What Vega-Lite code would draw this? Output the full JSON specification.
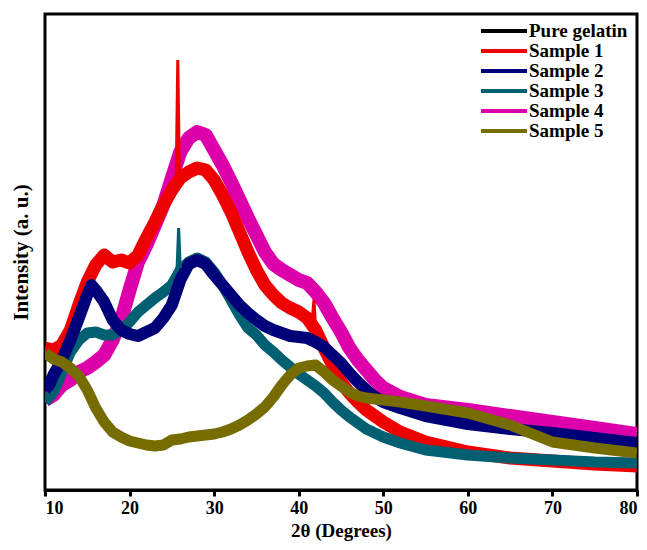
{
  "$schema": "https://vega.github.io/schema/vega-lite/v6.json",
  "width": 592,
  "height": 476,
  "autosize": {"type": "none"},
  "padding": {"left": 45, "top": 14, "right": 10, "bottom": 60},
  "background": "white",
  "config": {
    "view": {"stroke": "black", "strokeWidth": 3},
    "font": "Liberation Serif"
  },
  "datasets": {
    "curves": [
      {"s":"Sample 4","x":10,"y":90},{"s":"Sample 4","x":11,"y":95},{"s":"Sample 4","x":12,"y":105},{"s":"Sample 4","x":13,"y":110},{"s":"Sample 4","x":14,"y":118},{"s":"Sample 4","x":15,"y":122},{"s":"Sample 4","x":16,"y":128},{"s":"Sample 4","x":17,"y":135},{"s":"Sample 4","x":18,"y":150},{"s":"Sample 4","x":19,"y":170},{"s":"Sample 4","x":20,"y":200},{"s":"Sample 4","x":21,"y":228},{"s":"Sample 4","x":22,"y":245},{"s":"Sample 4","x":23,"y":265},{"s":"Sample 4","x":24,"y":285},{"s":"Sample 4","x":25,"y":312},{"s":"Sample 4","x":26,"y":338},{"s":"Sample 4","x":27,"y":352},{"s":"Sample 4","x":28,"y":358},{"s":"Sample 4","x":29,"y":355},{"s":"Sample 4","x":30,"y":340},{"s":"Sample 4","x":31,"y":325},{"s":"Sample 4","x":32,"y":308},{"s":"Sample 4","x":33,"y":290},{"s":"Sample 4","x":34,"y":272},{"s":"Sample 4","x":35,"y":255},{"s":"Sample 4","x":36,"y":238},{"s":"Sample 4","x":37,"y":226},{"s":"Sample 4","x":38,"y":220},{"s":"Sample 4","x":39,"y":215},{"s":"Sample 4","x":40,"y":210},{"s":"Sample 4","x":41,"y":207},{"s":"Sample 4","x":42,"y":198},{"s":"Sample 4","x":43,"y":187},{"s":"Sample 4","x":44,"y":172},{"s":"Sample 4","x":45,"y":158},{"s":"Sample 4","x":46,"y":142},{"s":"Sample 4","x":47,"y":130},{"s":"Sample 4","x":48,"y":120},{"s":"Sample 4","x":49,"y":110},{"s":"Sample 4","x":50,"y":102},{"s":"Sample 4","x":52,"y":93},{"s":"Sample 4","x":55,"y":85},{"s":"Sample 4","x":60,"y":80},{"s":"Sample 4","x":65,"y":74},{"s":"Sample 4","x":70,"y":68},{"s":"Sample 4","x":75,"y":62},{"s":"Sample 4","x":80,"y":56},

      {"s":"Sample 1","x":10,"y":142},{"s":"Sample 1","x":11,"y":140},{"s":"Sample 1","x":12,"y":145},{"s":"Sample 1","x":13,"y":160},{"s":"Sample 1","x":14,"y":185},{"s":"Sample 1","x":15,"y":208},{"s":"Sample 1","x":16,"y":225},{"s":"Sample 1","x":17,"y":235},{"s":"Sample 1","x":18,"y":228},{"s":"Sample 1","x":19,"y":230},{"s":"Sample 1","x":20,"y":227},{"s":"Sample 1","x":21,"y":235},{"s":"Sample 1","x":22,"y":252},{"s":"Sample 1","x":23,"y":268},{"s":"Sample 1","x":24,"y":285},{"s":"Sample 1","x":25,"y":300},{"s":"Sample 1","x":26,"y":312},{"s":"Sample 1","x":27,"y":318},{"s":"Sample 1","x":28,"y":322},{"s":"Sample 1","x":29,"y":320},{"s":"Sample 1","x":30,"y":310},{"s":"Sample 1","x":31,"y":295},{"s":"Sample 1","x":32,"y":278},{"s":"Sample 1","x":33,"y":258},{"s":"Sample 1","x":34,"y":238},{"s":"Sample 1","x":35,"y":220},{"s":"Sample 1","x":36,"y":205},{"s":"Sample 1","x":37,"y":195},{"s":"Sample 1","x":38,"y":187},{"s":"Sample 1","x":39,"y":182},{"s":"Sample 1","x":40,"y":178},{"s":"Sample 1","x":41,"y":172},{"s":"Sample 1","x":42,"y":160},{"s":"Sample 1","x":43,"y":142},{"s":"Sample 1","x":44,"y":125},{"s":"Sample 1","x":45,"y":108},{"s":"Sample 1","x":46,"y":97},{"s":"Sample 1","x":47,"y":88},{"s":"Sample 1","x":48,"y":80},{"s":"Sample 1","x":50,"y":68},{"s":"Sample 1","x":52,"y":58},{"s":"Sample 1","x":55,"y":48},{"s":"Sample 1","x":60,"y":38},{"s":"Sample 1","x":65,"y":32},{"s":"Sample 1","x":70,"y":29},{"s":"Sample 1","x":75,"y":26},{"s":"Sample 1","x":80,"y":24},

      {"s":"Sample 3","x":10,"y":88},{"s":"Sample 3","x":11,"y":98},{"s":"Sample 3","x":12,"y":118},{"s":"Sample 3","x":13,"y":138},{"s":"Sample 3","x":14,"y":150},{"s":"Sample 3","x":15,"y":157},{"s":"Sample 3","x":16,"y":158},{"s":"Sample 3","x":17,"y":155},{"s":"Sample 3","x":18,"y":155},{"s":"Sample 3","x":19,"y":160},{"s":"Sample 3","x":20,"y":168},{"s":"Sample 3","x":21,"y":178},{"s":"Sample 3","x":22,"y":185},{"s":"Sample 3","x":23,"y":192},{"s":"Sample 3","x":24,"y":198},{"s":"Sample 3","x":25,"y":205},{"s":"Sample 3","x":26,"y":220},{"s":"Sample 3","x":27,"y":228},{"s":"Sample 3","x":28,"y":232},{"s":"Sample 3","x":29,"y":228},{"s":"Sample 3","x":30,"y":218},{"s":"Sample 3","x":31,"y":205},{"s":"Sample 3","x":32,"y":190},{"s":"Sample 3","x":33,"y":175},{"s":"Sample 3","x":34,"y":162},{"s":"Sample 3","x":35,"y":155},{"s":"Sample 3","x":36,"y":145},{"s":"Sample 3","x":37,"y":138},{"s":"Sample 3","x":38,"y":130},{"s":"Sample 3","x":39,"y":123},{"s":"Sample 3","x":40,"y":116},{"s":"Sample 3","x":41,"y":110},{"s":"Sample 3","x":42,"y":104},{"s":"Sample 3","x":43,"y":97},{"s":"Sample 3","x":44,"y":88},{"s":"Sample 3","x":45,"y":80},{"s":"Sample 3","x":46,"y":73},{"s":"Sample 3","x":47,"y":67},{"s":"Sample 3","x":48,"y":61},{"s":"Sample 3","x":50,"y":53},{"s":"Sample 3","x":52,"y":47},{"s":"Sample 3","x":55,"y":40},{"s":"Sample 3","x":60,"y":35},{"s":"Sample 3","x":65,"y":32},{"s":"Sample 3","x":70,"y":30},{"s":"Sample 3","x":75,"y":28},{"s":"Sample 3","x":80,"y":27},

      {"s":"Sample 2","x":10,"y":100},{"s":"Sample 2","x":10.5,"y":105},{"s":"Sample 2","x":11,"y":115},{"s":"Sample 2","x":12,"y":130},{"s":"Sample 2","x":13,"y":150},{"s":"Sample 2","x":14,"y":172},{"s":"Sample 2","x":15,"y":195},{"s":"Sample 2","x":15.5,"y":205},{"s":"Sample 2","x":16,"y":200},{"s":"Sample 2","x":17,"y":188},{"s":"Sample 2","x":18,"y":170},{"s":"Sample 2","x":19,"y":160},{"s":"Sample 2","x":20,"y":156},{"s":"Sample 2","x":21,"y":154},{"s":"Sample 2","x":22,"y":158},{"s":"Sample 2","x":23,"y":162},{"s":"Sample 2","x":24,"y":172},{"s":"Sample 2","x":25,"y":185},{"s":"Sample 2","x":26,"y":210},{"s":"Sample 2","x":27,"y":226},{"s":"Sample 2","x":28,"y":230},{"s":"Sample 2","x":29,"y":226},{"s":"Sample 2","x":30,"y":215},{"s":"Sample 2","x":31,"y":205},{"s":"Sample 2","x":32,"y":195},{"s":"Sample 2","x":33,"y":185},{"s":"Sample 2","x":34,"y":177},{"s":"Sample 2","x":35,"y":170},{"s":"Sample 2","x":36,"y":164},{"s":"Sample 2","x":37,"y":160},{"s":"Sample 2","x":38,"y":157},{"s":"Sample 2","x":39,"y":154},{"s":"Sample 2","x":40,"y":153},{"s":"Sample 2","x":41,"y":152},{"s":"Sample 2","x":42,"y":148},{"s":"Sample 2","x":43,"y":143},{"s":"Sample 2","x":44,"y":135},{"s":"Sample 2","x":45,"y":127},{"s":"Sample 2","x":46,"y":117},{"s":"Sample 2","x":47,"y":108},{"s":"Sample 2","x":48,"y":100},{"s":"Sample 2","x":49,"y":93},{"s":"Sample 2","x":50,"y":88},{"s":"Sample 2","x":52,"y":82},{"s":"Sample 2","x":55,"y":74},{"s":"Sample 2","x":60,"y":66},{"s":"Sample 2","x":65,"y":61},{"s":"Sample 2","x":70,"y":57},{"s":"Sample 2","x":75,"y":52},{"s":"Sample 2","x":80,"y":47},

      {"s":"Sample 5","x":10,"y":137},{"s":"Sample 5","x":11,"y":131},{"s":"Sample 5","x":12,"y":128},{"s":"Sample 5","x":13,"y":122},{"s":"Sample 5","x":14,"y":114},{"s":"Sample 5","x":15,"y":100},{"s":"Sample 5","x":16,"y":82},{"s":"Sample 5","x":17,"y":68},{"s":"Sample 5","x":18,"y":58},{"s":"Sample 5","x":19,"y":53},{"s":"Sample 5","x":20,"y":49},{"s":"Sample 5","x":21,"y":47},{"s":"Sample 5","x":22,"y":45},{"s":"Sample 5","x":23,"y":44},{"s":"Sample 5","x":24,"y":45},{"s":"Sample 5","x":25,"y":50},{"s":"Sample 5","x":26,"y":51},{"s":"Sample 5","x":27,"y":53},{"s":"Sample 5","x":28,"y":54},{"s":"Sample 5","x":29,"y":55},{"s":"Sample 5","x":30,"y":56},{"s":"Sample 5","x":31,"y":58},{"s":"Sample 5","x":32,"y":61},{"s":"Sample 5","x":33,"y":65},{"s":"Sample 5","x":34,"y":70},{"s":"Sample 5","x":35,"y":76},{"s":"Sample 5","x":36,"y":83},{"s":"Sample 5","x":37,"y":93},{"s":"Sample 5","x":38,"y":105},{"s":"Sample 5","x":39,"y":115},{"s":"Sample 5","x":40,"y":122},{"s":"Sample 5","x":41,"y":124},{"s":"Sample 5","x":42,"y":125},{"s":"Sample 5","x":43,"y":118},{"s":"Sample 5","x":44,"y":110},{"s":"Sample 5","x":45,"y":104},{"s":"Sample 5","x":46,"y":98},{"s":"Sample 5","x":47,"y":94},{"s":"Sample 5","x":48,"y":92},{"s":"Sample 5","x":50,"y":90},{"s":"Sample 5","x":52,"y":88},{"s":"Sample 5","x":55,"y":84},{"s":"Sample 5","x":60,"y":77},{"s":"Sample 5","x":65,"y":65},{"s":"Sample 5","x":70,"y":48},{"s":"Sample 5","x":75,"y":42},{"s":"Sample 5","x":80,"y":37}
    ],
    "spikes": [
      {"s":"Sample 1","k":"a","x":25.5,"y":305},{"s":"Sample 1","k":"a","x":25.7,"y":430},{"s":"Sample 1","k":"a","x":25.9,"y":312},
      {"s":"Sample 1","k":"b","x":41.6,"y":170},{"s":"Sample 1","k":"b","x":41.8,"y":190},{"s":"Sample 1","k":"b","x":42.0,"y":162},
      {"s":"Sample 3","k":"c","x":25.6,"y":218},{"s":"Sample 3","k":"c","x":25.8,"y":262},{"s":"Sample 3","k":"c","x":26.0,"y":222}
    ]
  },
  "data": {"name": "curves"},
  "encoding": {
    "x": {
      "field": "x", "type": "quantitative",
      "scale": {"domain": [10, 80], "nice": false, "zero": false},
      "axis": {
        "title": "2θ (Degrees)", "values": [10, 20, 30, 40, 50, 60, 70, 80],
        "grid": false, "domainColor": "black", "domainWidth": 3,
        "tickColor": "black", "tickWidth": 3, "tickSize": 6,
        "labelFont": "Liberation Serif", "labelFontWeight": "bold", "labelFontSize": 18, "labelColor": "black", "labelPadding": 3,
        "titleFont": "Liberation Serif", "titleFontWeight": "bold", "titleFontSize": 19, "titleColor": "black", "titlePadding": 4
      }
    },
    "y": {
      "field": "y", "type": "quantitative",
      "scale": {"domain": [0, 476], "nice": false},
      "axis": {
        "title": "Intensity (a. u.)", "labels": false, "ticks": false, "grid": false, "domain": false,
        "titleFont": "Liberation Serif", "titleFontWeight": "bold", "titleFontSize": 21, "titleColor": "black", "titlePadding": 14
      }
    },
    "color": {
      "field": "s", "type": "nominal",
      "scale": {
        "domain": ["Pure gelatin", "Sample 1", "Sample 2", "Sample 3", "Sample 4", "Sample 5"],
        "range": ["#000000", "#ee0000", "#000078", "#005f70", "#dd00aa", "#766c00"]
      },
      "legend": {
        "title": null, "orient": "none", "legendX": 434, "legendY": 8, "padding": 0,
        "labelFont": "Liberation Serif", "labelFontWeight": "bold", "labelFontSize": 19, "labelColor": "black",
        "symbolType": "stroke", "symbolSize": 2116, "symbolStrokeWidth": 4, "labelOffset": 0,
        "clipHeight": 18, "rowPadding": 1
      }
    }
  },
  "layer": [
    {"transform": [{"filter": "datum.s === 'Sample 4'"}], "mark": {"type": "line", "strokeWidth": 14, "strokeJoin": "round", "clip": true}},
    {"transform": [{"filter": "datum.s === 'Sample 1'"}], "mark": {"type": "line", "strokeWidth": 13, "strokeJoin": "round", "clip": true}},
    {"transform": [{"filter": "datum.s === 'Sample 3'"}], "mark": {"type": "line", "strokeWidth": 11, "strokeJoin": "round", "clip": true}},
    {"transform": [{"filter": "datum.s === 'Sample 2'"}], "mark": {"type": "line", "strokeWidth": 12, "strokeJoin": "round", "clip": true}},
    {"transform": [{"filter": "datum.s === 'Sample 5'"}], "mark": {"type": "line", "strokeWidth": 11, "strokeJoin": "round", "clip": true}},
    {"data": {"name": "spikes"}, "mark": {"type": "line", "strokeWidth": 3, "clip": true}, "encoding": {"detail": {"field": "k"}}}
  ]
}
